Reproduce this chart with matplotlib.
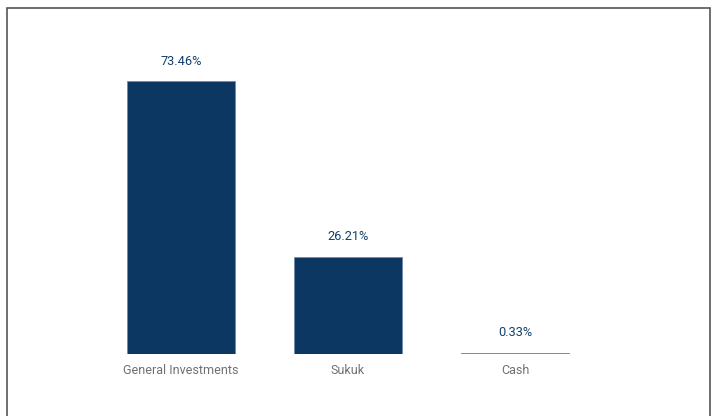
import matplotlib.pyplot as plt
from matplotlib.patches import Rectangle

# Asset allocation
categories = ['General Investments', 'Sukuk', 'Cash']
weights = [73.46, 26.21, 0.33]

bar_color = '#0b3762'
label_color = '#123f6c'
plt.rcParams['font.family'] = ['Roboto', 'DejaVu Sans']

fig = plt.figure(figsize=(7.14, 4.16), dpi=100)
ax = fig.add_axes([14 / 714, 62 / 416, 668 / 714, 297 / 416])

x = range(len(categories))
bars = ax.bar(x, weights, width=0.647, color=bar_color,
              edgecolor='#6f8aa8', linewidth=0.6)

for b, v in zip(bars, weights):
    ax.annotate(f'{v:.2f}%', (b.get_x() + b.get_width() / 2, v),
                xytext=(0, 14.4), textcoords='offset points',
                ha='center', va='center', fontsize=9.2, color=label_color)

ax.set_xlim(-1, 3)
ax.set_ylim(0, 80)
ax.set_xticks(list(x))
ax.set_xticklabels(categories, fontsize=9, color='#707070')
ax.tick_params(axis='x', length=0, pad=7.2)
ax.set_yticks([])
for s in ax.spines.values():
    s.set_visible(False)

# frame around the chart
fig.patches.append(Rectangle((6.5 / 714, -0.05), 703 / 714, 1.05 - 7.5 / 416,
                             transform=fig.transFigure, fill=False,
                             edgecolor='#555555', linewidth=1.2))

fig.savefig('out.png', dpi=100)
